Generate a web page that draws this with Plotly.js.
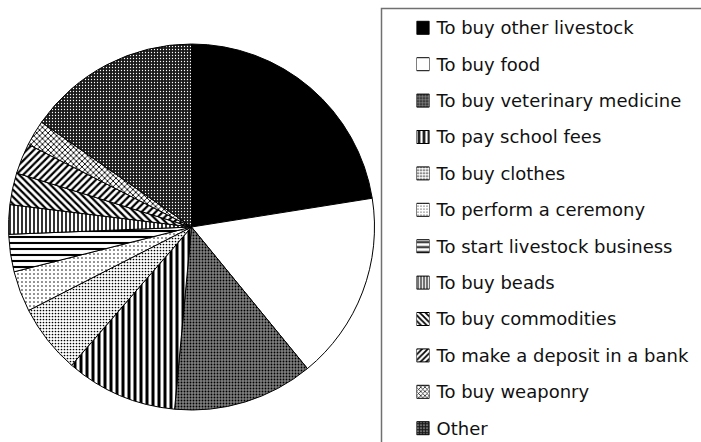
<!DOCTYPE html>
<html>
<head>
<meta charset="utf-8">
<script src="https://cdn.plot.ly/plotly-3.0.1.min.js"></script>
<style>html,body{margin:0;padding:0;background:#fff;}#chart{width:701px;height:442px;}</style>
</head>
<body>
<div id="chart"></div>
<script>
// Data (percent of responses)
const labels = [
  "To buy other livestock",
  "To buy food",
  "To buy veterinary medicine",
  "To pay school fees",
  "To buy clothes",
  "To perform a ceremony",
  "To start livestock business",
  "To buy beads",
  "To buy commodities",
  "To make a deposit in a bank",
  "To buy weaponry",
  "Other"
];
const values = [22.5, 16.6, 12.4, 9.9, 6.1, 3.6, 3.3, 2.6, 2.8, 2.7, 2.25, 15.3];

// Fill styles (black & white hatching)
const fillColors   = ["#000000","#ffffff","#808080","#ffffff","#ffffff","#ffffff","#ffffff","#ffffff","#ffffff","#ffffff","#ffffff","#1a1a1a"];
const patShapes    = ["", "", ".", "|", ".", ".", "-", "|", "\\", "/", "x", "."];
const patFg        = ["#000","#000","#000","#000","#000","#000","#000","#000","#000","#000","#000","#ffffff"];
const patSize      = [6, 6, 3, 6, 3, 4, 6, 4, 5, 5, 4, 3];
const patSolidity  = [0.5, 0.5, 0.3, 0.5, 0.25, 0.12, 0.35, 0.4, 0.45, 0.45, 0.4, 0.15];

const W = 701, H = 442;
const px = v => v / W;
const py = v => (H - v) / H;

const pie = {
  type: "pie",
  labels: labels,
  values: values,
  sort: false,
  direction: "clockwise",
  rotation: 0,
  textinfo: "none",
  hoverinfo: "label+percent",
  showlegend: false,
  domain: { x: [px(191.5 - 183), px(191.5 + 183)], y: [py(227 + 183), py(227 - 183)] },
  marker: {
    colors: fillColors,
    line: { color: "#000", width: 1 },
    pattern: { shape: patShapes, fgcolor: patFg, bgcolor: fillColors, size: patSize, solidity: patSolidity, fillmode: "replace" }
  }
};

// Legend swatches: one small bar per category on a hidden axis, labels as tick text
const swatchTraces = labels.map((lab, i) => ({
  type: "bar",
  orientation: "h",
  uid: "sw" + i,
  y: [lab],
  x: [1],
  xaxis: "x2",
  yaxis: "y2",
  width: 13 / 36.4,
  hoverinfo: "y",
  showlegend: false,
  marker: {
    color: fillColors[i],
    line: { color: "#000", width: 1 },
    pattern: { shape: patShapes[i], fgcolor: patFg[i], bgcolor: fillColors[i], size: Math.max(3, patSize[i] - 1), solidity: patSolidity[i], fillmode: "replace" }
  }
}));

const layout = {
  width: W, height: H,
  margin: { l: 0, r: 0, t: 0, b: 0 },
  paper_bgcolor: "#fff",
  plot_bgcolor: "rgba(0,0,0,0)",
  showlegend: false,
  barmode: "overlay",
  xaxis2: { domain: [px(416.5), px(429.5)], range: [0, 1], visible: false, fixedrange: true, anchor: "y2" },
  yaxis2: {
    domain: [0, py(9.6)],
    range: [11.379, -0.5],
    type: "category",
    categoryorder: "array",
    categoryarray: labels,
    anchor: "x2",
    side: "right",
    showgrid: false, zeroline: false, showline: false, ticks: "",
    ticklabelstandoff: 6,
    tickfont: { family: "DejaVu Sans", size: 18, color: "#111" },
    fixedrange: true
  },
  shapes: [{
    type: "rect", xref: "paper", yref: "paper",
    x0: px(381.5), x1: px(740), y0: py(8.5), y1: py(480),
    line: { color: "#707070", width: 1.5 }, fillcolor: "rgba(0,0,0,0)", layer: "below"
  }]
};

Plotly.newPlot("chart", [pie].concat(swatchTraces), layout, { staticPlot: true, displayModeBar: false });
</script>
</body>
</html>
